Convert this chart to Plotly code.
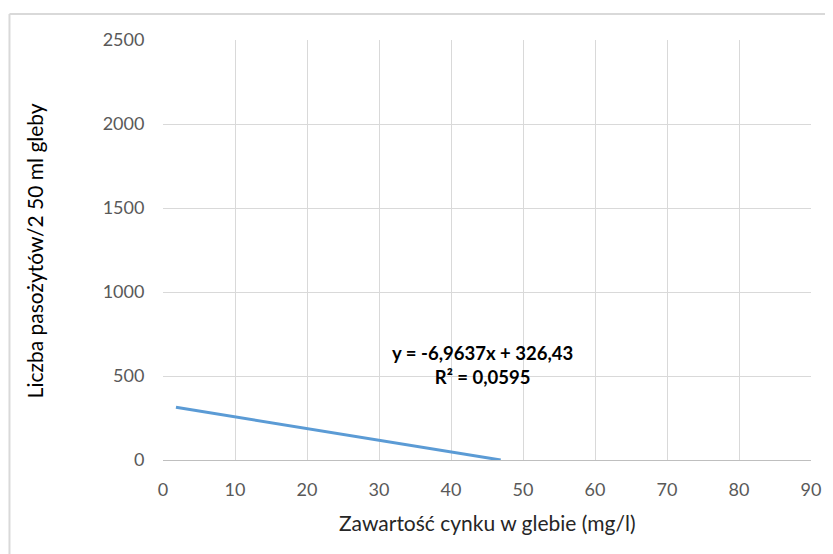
import plotly.graph_objects as go

# Trendline endpoints
trend_x = [1.8, 46.9]
trend_y = [314, 0]

x_ticks = [0, 10, 20, 30, 40, 50, 60, 70, 80, 90]
y_ticks = [0, 500, 1000, 1500, 2000, 2500]

equation_text = "y = -6,9637x + 326,43<br>R² = 0,0595"
x_title = "Zawartość cynku w glebie (mg/l)"
y_title = "Liczba pasożytów/2 50 ml gleby"

FONT = "Lato, 'Open Sans', sans-serif"
# page has an 8px body margin; figure is sized/positioned to compensate
W, H = 825, 546
L, R, T, B = 155, 20, 32, 94
pw, ph = W - L - R, H - T - B

def px(xp):
    return (xp - L) / pw

def py(yp):
    return (H - B - yp) / ph

fig = go.Figure()
fig.add_trace(go.Scatter(
    x=trend_x, y=trend_y, mode="lines",
    line=dict(color="#5B9BD5", width=3),
    showlegend=False, hoverinfo="skip",
))

fig.add_annotation(
    x=px(475), y=py(357), xref="paper", yref="paper",
    text="<b>" + equation_text + "</b>", showarrow=False,
    font=dict(family=FONT, size=18.5, color="#000000"),
    align="center", xanchor="center", yanchor="middle",
)
fig.add_annotation(
    x=px(480), y=py(514), xref="paper", yref="paper",
    text=x_title, showarrow=False,
    font=dict(family=FONT, size=21, color="#262626"),
    xanchor="center", yanchor="middle",
)
fig.add_annotation(
    x=px(26), y=py(243), xref="paper", yref="paper",
    text=y_title, showarrow=False, textangle=-90,
    font=dict(family=FONT, size=21, color="#000000"),
    xanchor="center", yanchor="middle",
)

border = "#D9D9D9"
fig.add_shape(type="line", xref="paper", yref="paper",
              x0=px(1), x1=px(1), y0=py(6), y1=py(600),
              line=dict(color=border, width=2))
fig.add_shape(type="line", xref="paper", yref="paper",
              x0=px(1), x1=px(900), y0=py(6), y1=py(6),
              line=dict(color=border, width=2))

fig.update_layout(
    width=W, height=H,
    margin=dict(l=L, r=R, t=T, b=B),
    paper_bgcolor="white", plot_bgcolor="white",
    font=dict(family=FONT, size=18, color="#595959"),
    xaxis=dict(
        range=[0, 90], tickvals=x_ticks, ticktext=[str(v) for v in x_ticks],
        showgrid=True, gridcolor="#D9D9D9", gridwidth=1,
        showline=True, linecolor="#BFBFBF", linewidth=1,
        zeroline=False, ticks="outside", ticklen=13, tickcolor="rgba(0,0,0,0)",
        tickfont=dict(family=FONT, size=18, color="#595959"),
    ),
    yaxis=dict(
        range=[0, 2500], tickvals=y_ticks, ticktext=[str(v) for v in y_ticks],
        showgrid=True, gridcolor="#D9D9D9", gridwidth=1,
        zeroline=False, showline=False,
        ticks="outside", ticklen=14, tickcolor="rgba(0,0,0,0)",
        tickfont=dict(family=FONT, size=18, color="#595959"),
    ),
)

fig.write_html("out.html")
